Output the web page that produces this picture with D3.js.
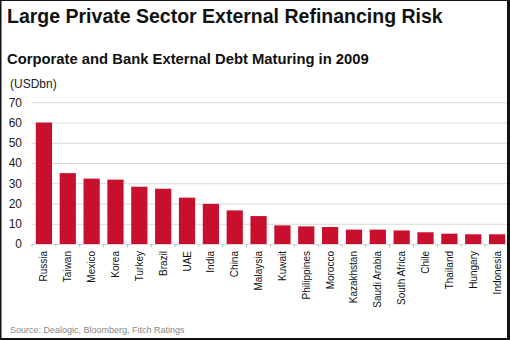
<!DOCTYPE html>
<html>
<head>
<meta charset="utf-8">
<script src="https://cdn.jsdelivr.net/npm/d3@7"></script>
<style>
  html, body { margin: 0; padding: 0; background: #fff; }
  svg { display: block; font-family: "Liberation Sans", Arial, sans-serif; }
</style>
</head>
<body>
<svg id="chart" width="510" height="340"></svg>
<script>
// Corporate and bank external debt maturing in 2009, USD bn
const countries = ["Russia", "Taiwan", "Mexico", "Korea", "Turkey", "Brazil", "UAE", "India",
  "China", "Malaysia", "Kuwait", "Philippines", "Morocco", "Kazakhstan", "Saudi Arabia",
  "South Africa", "Chile", "Thailand", "Hungary", "Indonesia"];
const debtMaturing = [60, 35, 32.3, 31.8, 28.3, 27.3, 22.9, 19.8, 16.6, 13.8, 9.2, 8.7, 8.4,
  7.1, 7.1, 6.7, 5.8, 5.1, 4.8, 4.8];
const yTicks = [0, 10, 20, 30, 40, 50, 60, 70];

const svg = d3.select("#chart");
const W = 510, H = 340;
const plot = { left: 32, right: 507, top: 102.3, bottom: 244 };

svg.append("rect").attr("x", 0).attr("y", 0).attr("width", W).attr("height", H).attr("fill", "#fff");

// titles
svg.append("text").attr("x", 7).attr("y", 23)
  .attr("font-size", 19.5).attr("font-weight", "bold").attr("fill", "#111")
  .text("Large Private Sector External Refinancing Risk");
svg.append("text").attr("x", 7).attr("y", 63.5)
  .attr("font-size", 14.8).attr("font-weight", "bold").attr("fill", "#111")
  .text("Corporate and Bank External Debt Maturing in 2009");
svg.append("text").attr("x", 10).attr("y", 88)
  .attr("font-size", 12).attr("fill", "#222")
  .text("(USDbn)");

const x = d3.scaleBand().domain(countries).range([plot.left, 509])
  .paddingInner(0.32).paddingOuter(0.16);
const y = d3.scaleLinear().domain([0, 70]).range([plot.bottom, plot.top]);

// horizontal gridlines and y labels
const yAxis = d3.axisLeft(y).tickValues(yTicks).tickSize(-(plot.right - plot.left)).tickPadding(10);
const gy = svg.append("g").attr("transform", `translate(${plot.left},0)`).call(yAxis);
gy.select(".domain").remove();
gy.selectAll(".tick line").attr("stroke", "#d9d9d9").attr("stroke-width", 1);
gy.selectAll(".tick text").attr("font-size", 12).attr("fill", "#222")
  .attr("font-family", "Liberation Sans, Arial, sans-serif");

// bars
svg.append("g").selectAll("rect").data(countries).join("rect")
  .attr("x", d => x(d))
  .attr("width", x.bandwidth())
  .attr("y", (d, i) => y(debtMaturing[i]))
  .attr("height", (d, i) => y(0) - y(debtMaturing[i]))
  .attr("fill", "#C8102E");

// category axis: ticks between bands
const step = x.step();
const bounds = countries.map((c, i) => plot.left + i * step).concat([plot.left + countries.length * step]);
svg.append("g").selectAll("line").data(bounds).join("line")
  .attr("x1", d => d).attr("x2", d => d)
  .attr("y1", plot.bottom).attr("y2", plot.bottom + 3)
  .attr("stroke", "#bbb");

svg.append("g").selectAll("text").data(countries).join("text")
  .attr("transform", d => `translate(${x(d) + x.bandwidth() / 2 + 3.5},251) rotate(-90)`)
  .attr("text-anchor", "end")
  .attr("font-size", 10).attr("fill", "#111")
  .text(d => d);

// source
svg.append("text").attr("x", 10).attr("y", 333)
  .attr("font-size", 9).attr("fill", "#888")
  .text("Source: Dealogic, Bloomberg, Fitch Ratings");

// border
svg.append("line").attr("x1", 0.5).attr("x2", 0.5).attr("y1", 0).attr("y2", H).attr("stroke", "#111").attr("stroke-width", 2);
svg.append("line").attr("x1", 0).attr("x2", W).attr("y1", 0.5).attr("y2", 0.5).attr("stroke", "#111").attr("stroke-width", 1);
svg.append("rect").attr("x", 507).attr("y", 0).attr("width", 3).attr("height", H).attr("fill", "#111");
svg.append("rect").attr("x", 0).attr("y", 338).attr("width", W).attr("height", 2).attr("fill", "#111");
</script>
</body>
</html>
